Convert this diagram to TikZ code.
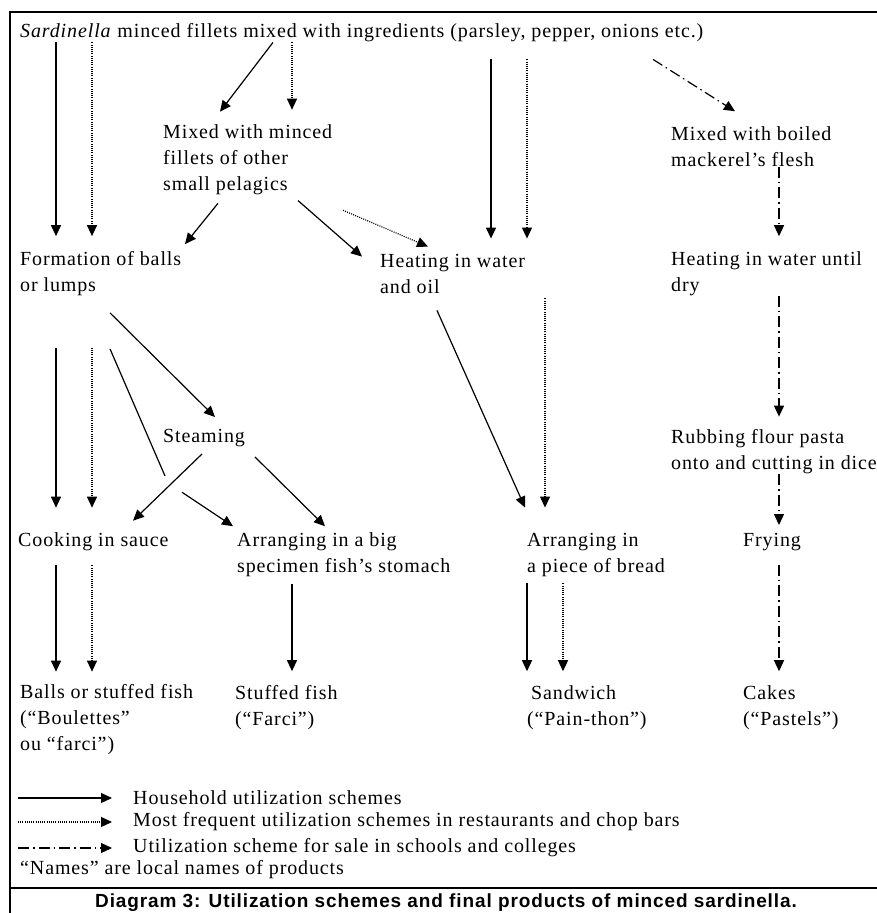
\documentclass[tikz,border=0pt]{standalone}
\usepackage{fontspec}
\setmainfont{Liberation Serif}[LetterSpace=4.4]
\newfontfamily\capfont{Liberation Sans}[LetterSpace=4.7]
\usetikzlibrary{positioning,calc}
\usetikzlibrary{arrows.meta}
\tikzstyle{fase} = [inner sep=0pt, anchor=west, align=left, font=\fontsize{20}{26}\selectfont]
\tikzstyle{casa} = [line width=1.2pt, -{Triangle[length=11pt,width=10pt]}]
\tikzstyle{risto} = [line width=1.2pt, dash pattern=on 1pt off 1.2pt, -{Triangle[length=11pt,width=10pt]}]
\tikzstyle{scuola} = [line width=1.2pt, dash pattern=on 11pt off 4pt on 1.5pt off 4pt, -{Triangle[length=11pt,width=10pt]}]

\begin{document}
\begin{tikzpicture}[x=1pt, y=-1pt]
	\useasboundingbox (0,0) rectangle (877,913);
	\draw[line width=2pt] (877,12) -- (10,12) -- (10,913);
	\draw[line width=2pt] (10,888) -- (877,888);

	\coordinate (c1) at (56,0);
	\coordinate (c2) at (92,0);
	\coordinate (c3) at (292,0);
	\coordinate (c4) at (491,0);
	\coordinate (c5) at (527,0);
	\coordinate (c6) at (545,0);
	\coordinate (c7) at (563,0);
	\coordinate (c8) at (779,0);

	\node (titolo) at (20,33) [fase] {\textit{Sardinella} minced fillets mixed with ingredients (parsley, pepper, onions etc.)};
	\node (misto) at (163,160) [fase] {Mixed with minced\\fillets of other\\small pelagics};
	\node (palle) at (20,273.5) [fase] {Formation of balls\\or lumps};
	\node (acqua) at (380,273.5) [fase] {Heating in water\\and oil};
	\node (sgombro) at (671,146.5) [fase] {Mixed with boiled\\mackerel’s flesh};
	\node (secco) at (671,273.5) [fase] {Heating in water until\\dry};
	\node (vapore) at (163,438) [fase] {Steaming};
	\node (sugo) at (18,542) [fase] {Cooking in sauce};
	\node (pancia) at (237,554.5) [fase] {Arranging in a big\\specimen fish’s stomach};
	\node (pane) at (527,554.5) [fase] {Arranging in\\a piece of bread};
	\node (farina) at (671,452) [fase] {Rubbing flour pasta\\onto and cutting in dice};
	\node (frittura) at (743,542) [fase] {Frying};
	\node (polpette) at (20,720) [fase] {Balls or stuffed fish\\(“Boulettes”\\ou “farci”)};
	\node (farcito) at (235,707.5) [fase] {Stuffed fish\\(“Farci”)};
	\node (panino) at (527,707.5) [fase] {\hspace*{4pt}Sandwich\\(“Pain-thon”)};
	\node (dolci) at (743,707.5) [fase] {Cakes\\(“Pastels”)};

	\draw[casa, shorten >=15pt] (titolo.south -| c1) -- (palle.north -| c1);
	\draw[risto, shorten >=15pt] (titolo.south -| c2) -- (palle.north -| c2);
	\draw[casa] ([xshift=253pt]titolo.south west) -- ([xshift=57pt,yshift=13pt]misto.north west);
	\draw[risto, shorten >=15pt] (titolo.south -| c3) -- (misto.north -| c3);
	\draw[casa, shorten <=17pt, shorten >=15pt] (titolo.south -| c4) -- (acqua.north -| c4);
	\draw[risto, shorten <=17pt, shorten >=15pt] (titolo.south -| c5) -- (acqua.north -| c5);
	\draw[scuola] ([xshift=633pt,yshift=-17pt]titolo.south west) -- ([xshift=64pt,yshift=15pt]sgombro.north west);

	\draw[casa] ([xshift=55pt,yshift=-8pt]misto.south west) -- ([xshift=165pt,yshift=7pt]palle.north west);
	\draw[casa, shorten <=8pt] (misto.south -| c3) -- ([xshift=-18pt,yshift=-3pt]acqua.north west);
	\draw[risto] ([xshift=180pt,yshift=-15pt]misto.south west) -- ([xshift=48pt,yshift=7pt]acqua.north west);

	\draw[scuola, shorten >=15pt] (sgombro.south -| c8) -- (secco.north -| c8);
	\draw[scuola, shorten >=13pt] (secco.south -| c8) -- (farina.north -| c8);
	\draw[scuola, shorten >=8pt] (farina.south -| c8) -- (frittura.north -| c8);
	\draw[scuola, shorten <=14pt, shorten >=14pt] (frittura.south -| c8) -- (dolci.north -| c8);

	\draw[casa, shorten <=52pt, shorten >=25pt] (palle.south -| c1) -- (sugo.north -| c1);
	\draw[risto, shorten <=52pt, shorten >=25pt] (palle.south -| c2) -- (sugo.north -| c2);
	\draw[casa] ([xshift=90pt,yshift=-17pt]palle.south west) -- ([xshift=52pt,yshift=12pt]vapore.north west);
	\draw[line width=1.2pt] ([xshift=90pt,yshift=-53pt]palle.south west) -- ([xshift=2pt,yshift=-29pt]vapore.south west);
	\draw[casa] ([xshift=-55pt,yshift=40pt]pancia.north west) -- ([xshift=-4pt,yshift=6pt]pancia.north west);

	\draw[casa] ([xshift=39pt,yshift=-7pt]vapore.south west) -- ([xshift=115pt,yshift=12pt]sugo.north west);
	\draw[casa] ([xshift=92pt,yshift=-10pt]vapore.south west) -- ([xshift=88pt,yshift=6pt]pancia.north west);

	\draw[casa] ([xshift=57pt,yshift=-17pt]acqua.south west) -- ([xshift=-2pt,yshift=25pt]pane.north west);
	\draw[risto, shorten <=5pt, shorten >=25pt] (acqua.south -| c6) -- (pane.north -| c6);

	\draw[casa, shorten <=14pt, shorten >=13pt] (sugo.south -| c1) -- (polpette.north -| c1);
	\draw[risto, shorten <=14pt, shorten >=13pt] (sugo.south -| c2) -- (polpette.north -| c2);
	\draw[casa, shorten <=7pt, shorten >=14pt] (pancia.south -| c3) -- (farcito.north -| c3);
	\draw[casa, shorten <=7pt, shorten >=14pt] (pane.south -| c5) -- (panino.north -| c5);
	\draw[risto, shorten <=7pt, shorten >=14pt] (pane.south -| c7) -- (panino.north -| c7);

	\node (leg1) at (133,798) [fase] {Household utilization schemes};
	\node (leg2) at (133,822) [fase] {Most frequent utilization schemes in restaurants and chop bars};
	\node (leg3) at (133,848) [fase] {Utilization scheme for sale in schools and colleges};
	\node (nomi) at (20,870) [fase] {“Names” are local names of products};
	\coordinate (k1) at (18,798);
	\coordinate (k2) at (18,822);
	\coordinate (k3) at (18,848);
	\draw[casa, shorten >=21pt] (k1) -- (leg1.west);
	\draw[risto, shorten >=21pt] (k2) -- (leg2.west);
	\draw[scuola, shorten >=21pt] (k3) -- (leg3.west);

	\node (didascalia) at (446,903) [font=\capfont\bfseries\fontsize{19}{22}\selectfont] {Diagram 3: Utilization schemes and final products of minced sardinella.};
\end{tikzpicture}
\end{document}
